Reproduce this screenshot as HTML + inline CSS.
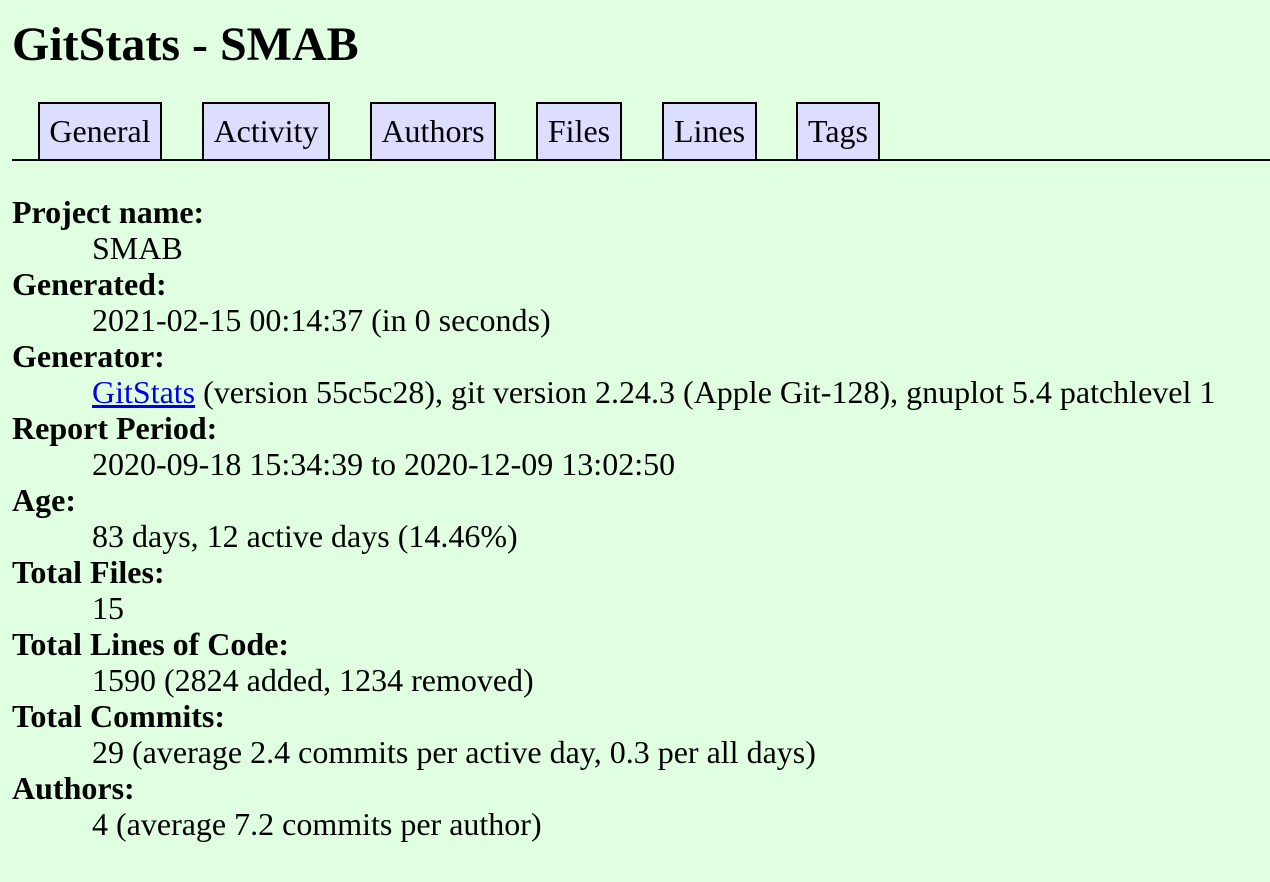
<!DOCTYPE html>
<html><head><meta charset="utf-8"><style>
html,body{margin:0;padding:0;}
body{width:1270px;height:882px;background:#e0ffe0;font-family:"Liberation Serif",serif;color:#000;position:relative;overflow:hidden;}
h1{position:absolute;left:12px;top:20px;margin:0;font-size:48px;font-weight:bold;line-height:50px;}
.nav{position:absolute;left:12px;top:102px;width:1258px;height:57px;border-bottom:2px solid #000;}
.tab{position:absolute;top:0;height:57px;border:2px solid #000;border-bottom:none;background:#ddddff;font-size:32px;line-height:55px;text-align:center;box-sizing:border-box;white-space:nowrap;}
dl{position:absolute;left:12px;top:194px;margin:0;font-size:32px;line-height:36px;}
dt{font-weight:bold;margin:0;}
dd{margin:0 0 0 80px;white-space:nowrap;}
a{color:#0000ee;text-decoration:underline;}
</style></head><body>
<h1>GitStats - SMAB</h1>
<div class="nav">
<div class="tab" style="left:26px;width:124px">General</div>
<div class="tab" style="left:190px;width:128px">Activity</div>
<div class="tab" style="left:358px;width:126px">Authors</div>
<div class="tab" style="left:524px;width:86px">Files</div>
<div class="tab" style="left:650px;width:95px">Lines</div>
<div class="tab" style="left:784px;width:84px">Tags</div>
</div>
<dl>
<dt>Project name:</dt>
<dd>SMAB</dd>
<dt>Generated:</dt>
<dd>2021-02-15 00:14:37 (in 0 seconds)</dd>
<dt>Generator:</dt>
<dd><a>GitStats</a> (version 55c5c28), git version 2.24.3 (Apple Git-128), gnuplot 5.4 patchlevel 1</dd>
<dt>Report Period:</dt>
<dd>2020-09-18 15:34:39 to 2020-12-09 13:02:50</dd>
<dt>Age:</dt>
<dd>83 days, 12 active days (14.46%)</dd>
<dt>Total Files:</dt>
<dd>15</dd>
<dt>Total Lines of Code:</dt>
<dd>1590 (2824 added, 1234 removed)</dd>
<dt>Total Commits:</dt>
<dd>29 (average 2.4 commits per active day, 0.3 per all days)</dd>
<dt>Authors:</dt>
<dd>4 (average 7.2 commits per author)</dd>
</dl>
</body></html>
